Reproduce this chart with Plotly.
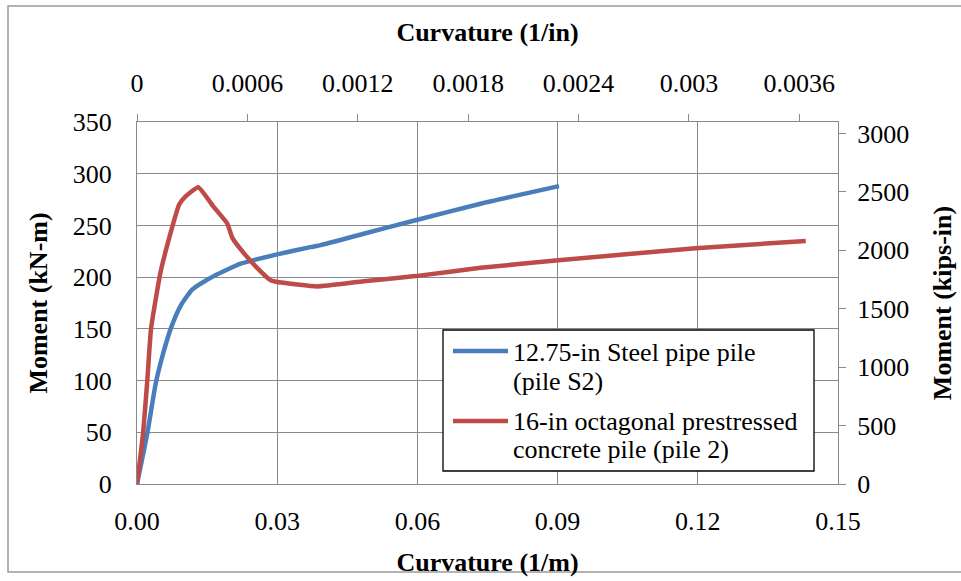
import plotly.graph_objects as go

# Moment-curvature data (curvature in 1/m, moment in kN-m)
steel_curv = [0.0, 0.0022, 0.0040, 0.0054, 0.0072, 0.0093, 0.0118, 0.0164, 0.0222,
              0.0300, 0.0371, 0.0393, 0.0485, 0.0596, 0.0735, 0.0903]
steel_mom = [0, 49, 97, 123, 150, 172, 188, 201, 213,
             222, 229, 231, 242, 255, 271, 288]

conc_curv = [0.0, 0.0013, 0.0022, 0.0030, 0.0050, 0.0072, 0.0090, 0.0104, 0.0131,
             0.0164, 0.0193, 0.0204, 0.0229, 0.0257, 0.0286, 0.0304, 0.0386,
             0.0485, 0.0596, 0.0735, 0.0896, 0.1195, 0.1431]
conc_mom = [0, 49, 100, 150, 204, 243, 270, 278, 287,
            268, 252, 238, 223, 209, 197, 195, 191,
            196, 201, 209, 216, 228, 235]

series_names = ["12.75-in Steel pipe pile", "(pile S2)",
                "16-in octagonal prestressed", "concrete pile (pile 2)"]

x_ticks_m = [0.00, 0.03, 0.06, 0.09, 0.12, 0.15]
x_ticks_in = [0, 0.0006, 0.0012, 0.0018, 0.0024, 0.003, 0.0036]
x_ticks_in_text = ["0", "0.0006", "0.0012", "0.0018", "0.0024", "0.003", "0.0036"]
y_ticks_kn = [0, 50, 100, 150, 200, 250, 300, 350]
y_ticks_kip = [0, 500, 1000, 1500, 2000, 2500, 3000]

IN_PER_M = 39.37
KIPIN_PER_KNM = 8.8507

BLUE = "#4A7EBB"
RED = "#BE4B48"
GRID = "#898989"
FONT = "Liberation Serif"
FS = 26

W, H = 961, 581
ML, MR, MT, MB = 137, 123, 122, 97
PL, PR, PT, PB = ML, W - MR, MT, H - MB


def fx(px):
    return (px - PL) / (PR - PL)


def fy(py):
    return (PB - py) / (PB - PT)


fig = go.Figure()
fig.add_trace(go.Scatter(x=steel_curv, y=steel_mom, mode="lines",
                         line=dict(color=BLUE, width=4.5, shape="spline", smoothing=0.5),
                         name=series_names[0], showlegend=False))
fig.add_trace(go.Scatter(x=conc_curv, y=conc_mom, mode="lines",
                         line=dict(color=RED, width=4.5, shape="spline", smoothing=0.4),
                         name=series_names[2], showlegend=False))
# Same steel pile curve in US units, bound to the secondary axes
fig.add_trace(go.Scatter(x=[c / IN_PER_M for c in steel_curv],
                         y=[m * KIPIN_PER_KNM for m in steel_mom],
                         xaxis="x2", yaxis="y2", mode="lines",
                         line=dict(color=BLUE, width=0), opacity=0,
                         hoverinfo="skip", showlegend=False))

axis_font = dict(family=FONT, size=FS, color="black")

fig.update_layout(
    width=W, height=H,
    margin=dict(l=ML, r=MR, t=MT, b=MB, autoexpand=False),
    paper_bgcolor="white", plot_bgcolor="white",
    font=dict(family=FONT, size=FS, color="black"),
    showlegend=False,
    xaxis=dict(range=[0, 0.15], tickvals=x_ticks_m, tickformat=".2f",
               showgrid=True, gridcolor=GRID, gridwidth=1.3,
               showline=True, linecolor=GRID, linewidth=1.3,
               ticks="", zeroline=False, tickfont=axis_font,
               ticklabelstandoff=14,
               title=dict(text="<b>Curvature (1/m)</b>", font=axis_font, standoff=17)),
    xaxis2=dict(range=[0, 0.15 / IN_PER_M], overlaying="x", side="top",
                tickmode="array", tickvals=x_ticks_in, ticktext=x_ticks_in_text,
                showgrid=False, showline=True, linecolor=GRID, linewidth=1.3,
                ticks="outside", ticklen=7, tickcolor=GRID, tickwidth=1.3,
                zeroline=False, tickfont=axis_font, ticklabelstandoff=11,
                title=dict(text="<b>Curvature (1/in)</b>", font=axis_font, standoff=20)),
    yaxis=dict(range=[0, 350], tickvals=y_ticks_kn,
               showgrid=True, gridcolor=GRID, gridwidth=1.3,
               showline=True, linecolor=GRID, linewidth=1.3,
               ticks="", zeroline=False, tickfont=axis_font,
               ticklabelstandoff=19,
               title=dict(text="<b>Moment (kN-m)</b>", font=axis_font, standoff=17)),
    yaxis2=dict(range=[0, 350 * KIPIN_PER_KNM], overlaying="y", side="right",
                tickvals=y_ticks_kip, showgrid=False,
                showline=True, linecolor=GRID, linewidth=1.3,
                ticks="outside", ticklen=7, tickcolor=GRID, tickwidth=1.3,
                zeroline=False, tickfont=axis_font, ticklabelstandoff=6,
                title=dict(text="<b>Moment (kips-in)</b>", font=axis_font, standoff=24)),
)

shapes = []
# outer chart frame
shapes.append(dict(type="rect", xref="paper", yref="paper",
                   x0=fx(8), x1=fx(966), y0=fy(572), y1=fy(6),
                   line=dict(color="#9a9a9a", width=1.5), fillcolor="rgba(0,0,0,0)",
                   layer="below"))
# legend box
shapes.append(dict(type="rect", xref="paper", yref="paper",
                   x0=fx(443), x1=fx(814), y0=fy(471), y1=fy(330),
                   line=dict(color="black", width=1.3), fillcolor="white", layer="above"))
# legend samples
for color, ypix in [(BLUE, 351), (RED, 421)]:
    shapes.append(dict(type="line", xref="paper", yref="paper",
                       x0=fx(453), x1=fx(508), y0=fy(ypix), y1=fy(ypix),
                       line=dict(color=color, width=4.5), layer="above"))
fig.update_layout(shapes=shapes)

annotations = []
for text, ypix in zip(series_names, [352, 381, 421, 449]):
    annotations.append(dict(text=text, xref="paper", yref="paper",
                            x=fx(511), y=fy(ypix), xanchor="left", yanchor="middle",
                            showarrow=False, font=dict(family=FONT, size=FS, color="black")))
fig.update_layout(annotations=annotations)

fig.write_html("out.html")
